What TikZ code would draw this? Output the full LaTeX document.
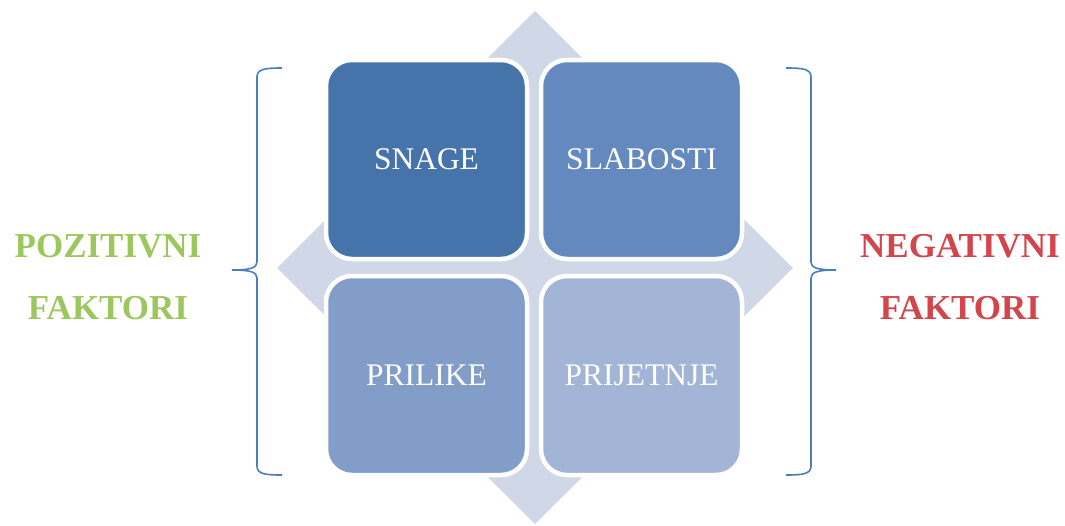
\documentclass[tikz,border=0pt]{standalone}
\usepackage{fontspec}
\setmainfont{Liberation Serif}
\definecolor{cA}{HTML}{4673AA}
\definecolor{cB}{HTML}{6389BE}
\definecolor{cC}{HTML}{829DC8}
\definecolor{cD}{HTML}{A3B5D6}
\definecolor{dia}{HTML}{D0D8E7}
\definecolor{brace}{HTML}{4A7EBB}
\definecolor{posg}{HTML}{9CC75E}
\definecolor{negr}{HTML}{D2454A}
\tikzset{
  quad/.style={rounded corners=26pt, draw=white, line width=4.5pt,
    minimum width=201pt, minimum height=199pt, inner sep=0pt,
    text=white, font=\fontsize{31.5}{36}\selectfont},
  side/.style={align=center, inner sep=0pt,
    font=\fontsize{35}{62}\selectfont\bfseries},
  brc/.style={draw=brace, line width=1.6pt}
}
\begin{document}
\begin{tikzpicture}[x=1pt,y=-1pt]
\useasboundingbox (0,0) rectangle (1065,525);
% background diamond
\fill[dia] (535,11) -- (793,268) -- (535,524) -- (277,268) -- cycle;
% quadrants
\node[quad, fill=cA] (snage) at (426.5,159.5) {SNAGE};
\node[quad, fill=cB] (slab) at (641.5,159.5) {SLABOSTI};
\node[quad, fill=cC] (pril) at (426.5,375.5) {PRILIKE};
\node[quad, fill=cD] (prij) at (641.5,375.5) {PRIJETNJE};
% braces
\draw[brc] (282,68) .. controls (265,68) and (257,69) .. (257,77)
  -- (257,262) .. controls (257,268) and (250,270) .. (232,270)
  .. controls (250,270) and (257,272) .. (257,278)
  -- (257,466) .. controls (257,474) and (265,475) .. (282,475);
\draw[brc] (786,68) .. controls (803,68) and (811,69) .. (811,77)
  -- (811,262) .. controls (811,268) and (818,270) .. (836,270)
  .. controls (818,270) and (811,272) .. (811,278)
  -- (811,466) .. controls (811,474) and (803,475) .. (786,475);
% side labels
\node[side, text=posg] (pos) at (108,277.5) {POZITIVNI\\FAKTORI};
\node[side, text=negr] (neg) at (960,277.5) {NEGATIVNI\\FAKTORI};
\end{tikzpicture}
\end{document}
